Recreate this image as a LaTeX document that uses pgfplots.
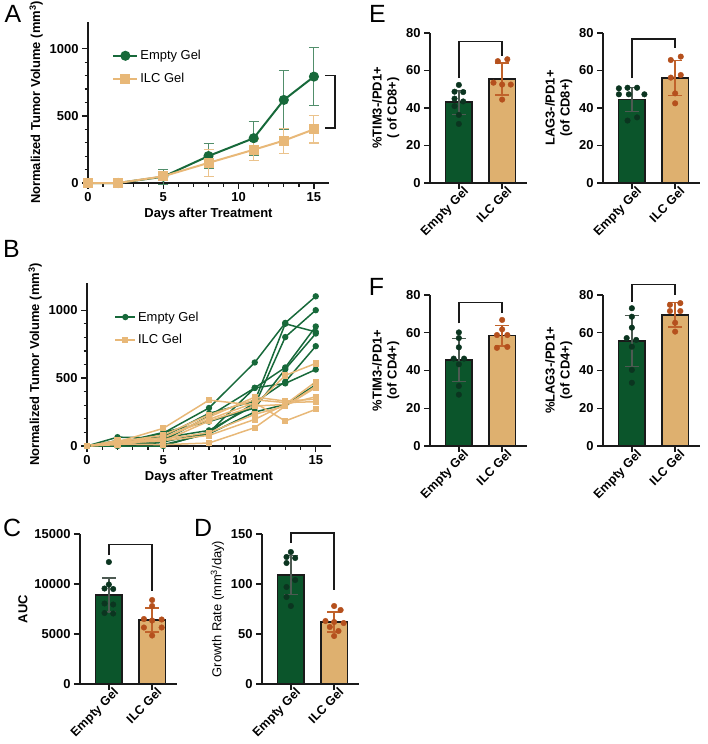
\documentclass[border=0pt]{standalone}
\usepackage{pgfplots}
\pgfplotsset{compat=1.18}
\usepackage{fontspec}
\setmainfont{Liberation Sans}
\definecolor{lgreen}{HTML}{17693A}
\definecolor{ltan}{HTML}{E8B878}
\definecolor{bgreen}{HTML}{0B552B}
\definecolor{btan}{HTML}{DEB06F}
\definecolor{dgreen}{HTML}{0B3520}
\definecolor{drust}{HTML}{B5501D}
\definecolor{egray}{HTML}{4D5A52}
\definecolor{erust}{HTML}{C0622B}
\definecolor{axcol}{HTML}{1A1A1A}
\newcommand{\lbl}{\fontsize{13}{15}\selectfont}
\pgfplotsset{
 prism/.style={
  scale only axis, clip=false,
  axis lines=left,
  axis line style={line width=1.4bp, axcol, -},
  tick align=outside,
  major tick length=6bp, minor tick length=3.5bp,
  tick style={line width=1.3bp, axcol},
  tick label style={font=\lbl\bfseries},
  label style={font=\lbl\bfseries},
  /pgf/number format/assume math mode=true,
  /pgf/number format/set thousands separator={},
  scaled ticks=false,
 },
 barp/.style={
  prism, width=96.5bp,
  xmin=0.333, xmax=2.563,
  xtick={1,2}, xticklabels={Empty Gel, ILC Gel},
  xticklabel style={rotate=45, anchor=north east, inner sep=1bp, xshift=6bp, yshift=0.5bp, font=\fontsize{12.5}{14}\selectfont\bfseries},
  ymin=0,
 },
 bargreen/.style={ybar, bar width=0.62, bar shift=0pt, fill=bgreen, draw=axcol, line width=1.8bp,
   error bars/.cd, y dir=both, y explicit,
   error bar style={line width=1.3bp, color=egray},
   error mark options={rotate=90, mark size=7bp, line width=1.3bp, color=egray}},
 bartan/.style={ybar, bar width=0.62, bar shift=0pt, fill=btan, draw=axcol, line width=1.8bp,
   error bars/.cd, y dir=both, y explicit,
   error bar style={line width=1.3bp, color=erust},
   error mark options={rotate=90, mark size=7bp, line width=1.3bp, color=erust}},
 dotg/.style={only marks, mark=*, mark size=2.8bp, mark options={draw=dgreen, fill=dgreen}},
 dott/.style={only marks, mark=*, mark size=2.8bp, mark options={draw=drust, fill=drust}},
 brk/.style={axcol, line width=1.3bp, mark=none},
 gline/.style={color=lgreen, line width=1.5bp, mark=*, mark size=2.4bp, mark options={fill=lgreen, draw=lgreen}},
 tline/.style={color=ltan, line width=1.5bp, mark=square*, mark size=2.4bp, mark options={fill=ltan, draw=ltan}},
}
\begin{document}
\begin{tikzpicture}
\useasboundingbox (0,0) rectangle (708bp,-744bp);
\node[font=\fontsize{25}{30}\selectfont] at (13bp,-14bp) {A};
\node[font=\fontsize{25}{30}\selectfont] at (11.5bp,-249bp) {B};
\node[font=\fontsize{25}{30}\selectfont] at (12bp,-527.5bp) {C};
\node[font=\fontsize{25}{30}\selectfont] at (203bp,-527.5bp) {D};
\node[font=\fontsize{25}{30}\selectfont] at (377.5bp,-14bp) {E};
\node[font=\fontsize{25}{30}\selectfont] at (376.5bp,-287bp) {F};

% ---------- A ----------
\begin{axis}[prism, at={(88bp,-183bp)}, anchor=south west, width=241bp, height=161bp,
  xmin=0, xmax=16, ymin=0, ymax=1200, xtick={0,5,10,15}, ytick={0,500,1000},
  minor x tick num=4, minor y tick num=4,
  xlabel={Days after Treatment}, ylabel={Normalized Tumor Volume (mm\textsuperscript{3})},
  legend style={at={(0.088,0.85)}, anchor=north west, draw=none, fill=none, font=\lbl, row sep=8bp},
  legend cell align=left,
  legend image code/.code={\draw[mark repeat=2,mark phase=2,#1] plot coordinates {(0bp,0bp) (12bp,0bp) (24bp,0bp)};}]
\addplot[color=lgreen, line width=2bp, mark=*, mark size=4bp, mark options={fill=lgreen, draw=lgreen},
  error bars/.cd, y dir=both, y explicit,
  error bar style={line width=1.1bp, color=lgreen!75},
  error mark options={rotate=90, mark size=5bp, line width=1.1bp, color=lgreen!75}]
  coordinates {(0,0) (2,0) +- (0,27) (5,47) +- (0,55) (8,201) +- (0,92) (11,334) +- (0,125) (13,619) +- (0,217) (15,793) +- (0,215)};
\addlegendentry{Empty Gel}
\addplot[color=ltan, line width=2bp, mark=square*, mark size=4bp, mark options={fill=ltan, draw=ltan},
  error bars/.cd, y dir=both, y explicit,
  error bar style={line width=1.1bp, color=ltan!85},
  error mark options={rotate=90, mark size=5bp, line width=1.1bp, color=ltan!85}]
  coordinates {(0,0) (2,0) +- (0,25) (5,50) +- (0,30) (8,150) +- (0,100) (11,248) +- (0,80) (13,316) +- (0,93) (15,400) +- (0,102)};
\addlegendentry{ILC Gel}
\addplot[brk, forget plot] coordinates {(15.75,800) (16.4,800) (16.4,410) (15.75,410)};
\end{axis}

% ---------- B ----------
\begin{axis}[prism, at={(87bp,-446bp)}, anchor=south west, width=244bp, height=163bp,
  xmin=0, xmax=16, ymin=0, ymax=1200, xtick={0,5,10,15}, ytick={0,500,1000},
  minor x tick num=4, minor y tick num=4,
  xlabel={Days after Treatment}, ylabel={Normalized Tumor Volume (mm\textsuperscript{3})},
  legend style={at={(0.1,0.85)}, anchor=north west, draw=none, fill=none, font=\lbl, row sep=8bp},
  legend cell align=left,
  legend image code/.code={\draw[mark repeat=2,mark phase=2,#1] plot coordinates {(0bp,0bp) (10bp,0bp) (20bp,0bp)};}]
\addplot[gline] coordinates {(0,0)(2,20)(5,95)(8,280)(11,615)(13,906)(15,1102)};
\addlegendentry{Empty Gel}
\addplot[gline, forget plot] coordinates {(0,0)(2,10)(5,70)(8,240)(11,330)(13,900)(15,840)};
\addplot[gline, forget plot] coordinates {(0,0)(2,65)(5,60)(8,115)(11,300)(13,802)(15,1000)};
\addplot[gline, forget plot] coordinates {(0,0)(2,30)(5,40)(8,220)(11,428)(13,578)(15,880)};
\addplot[gline, forget plot] coordinates {(0,0)(2,20)(5,100)(8,180)(11,280)(13,565)(15,828)};
\addplot[gline, forget plot] coordinates {(0,0)(2,5)(5,30)(8,100)(11,428)(13,461)(15,563)};
\addplot[gline, forget plot] coordinates {(0,0)(2,0)(5,0)(8,100)(11,320)(13,473)(15,735)};
\addplot[gline, forget plot] coordinates {(0,0)(2,40)(5,10)(8,90)(11,250)(13,306)(15,450)};
\addplot[tline] coordinates {(0,0)(2,30)(5,130)(8,338)(11,300)(13,520)(15,608)};
\addlegendentry{ILC Gel}
\addplot[tline, forget plot] coordinates {(0,0)(2,40)(5,60)(8,213)(11,360)(13,331)(15,345)};
\addplot[tline, forget plot] coordinates {(0,0)(2,20)(5,60)(8,196)(11,319)(13,184)(15,270)};
\addplot[tline, forget plot] coordinates {(0,0)(2,25)(5,35)(8,184)(11,294)(13,306)(15,473)};
\addplot[tline, forget plot] coordinates {(0,0)(2,10)(5,50)(8,98)(11,233)(13,294)(15,441)};
\addplot[tline, forget plot] coordinates {(0,0)(2,35)(5,40)(8,78)(11,196)(13,306)(15,363)};
\addplot[tline, forget plot] coordinates {(0,0)(2,15)(5,10)(8,22)(11,135)(13,294)(15,430)};
\addplot[tline, forget plot] coordinates {(0,0)(2,30)(5,80)(8,230)(11,340)(13,320)(15,326)};
\end{axis}

% ---------- C ----------
\begin{axis}[barp, at={(80bp,-684bp)}, anchor=south west, height=150bp,
  ymax=15000, ytick={0,5000,10000,15000}, ylabel={AUC}]
\addplot[bargreen] coordinates {(1,8900) +- (0,1700)};
\addplot[bartan] coordinates {(2,6400) +- (0,1200)};
\addplot[dotg] coordinates {(1,12200) (1,9950) (0.9,9550) (1.1,9500) (0.9,8050) (1.1,7950) (0.9,7100) (1.1,7050)};
\addplot[dott] coordinates {(2,8400) (2,7800) (1.81,6500) (2,6350) (2.22,6450) (1.81,5650) (2.22,5650) (2,4850)};
\addplot[brk] coordinates {(1,12900) (1,13970) (2,13970) (2,9300)};
\end{axis}

% ---------- D ----------
\begin{axis}[barp, at={(262bp,-684bp)}, anchor=south west, height=150bp,
  ymax=150, ytick={0,50,100,150}, ylabel={Growth Rate (mm\textsuperscript{3}/day)},
  ylabel style={font=\lbl}]
\addplot[bargreen] coordinates {(1,109) +- (0,19.5)};
\addplot[bartan] coordinates {(2,62) +- (0,10)};
\addplot[dotg] coordinates {(1,132) (0.9,127) (1.1,126) (0.9,121) (1.1,104) (0.9,97) (0.9,87) (1,78)};
\addplot[dott] coordinates {(2,78) (2.15,74) (1.8,63) (2,62) (2.22,61) (1.9,57) (2.1,53) (2,48)};
\addplot[brk] coordinates {(1,141) (1,151) (2,151) (2,94)};
\end{axis}

% ---------- E left ----------
\begin{axis}[barp, at={(430bp,-183bp)}, anchor=south west, height=150bp,
  ymax=80, ytick={0,20,40,60,80}, ylabel={\%TIM3-/PD1+\\( of CD8+)}, ylabel style={align=center}]
\addplot[bargreen] coordinates {(1,43) +- (0,6.5)};
\addplot[bartan] coordinates {(2,55.5) +- (0,8.5)};
\addplot[dotg] coordinates {(1,52.3) (0.9,48.7) (1.1,48.5) (0.9,45) (1.1,43.5) (0.9,41) (1,36.3) (1,31.5)};
\addplot[dott] coordinates {(1.9,65) (2.12,66) (1.8,53.5) (2,52.5) (2.2,52.5) (2,44.5)};
\addplot[brk] coordinates {(1,56) (1,75.5) (2,75.5) (2,67.5)};
\end{axis}

% ---------- E right ----------
\begin{axis}[barp, at={(603bp,-183bp)}, anchor=south west, height=150bp,
  ymax=80, ytick={0,20,40,60,80}, ylabel={LAG3-/PD1+\\(of CD8+)}, ylabel style={align=center}]
\addplot[bargreen] coordinates {(1,44.5) +- (0,6.5)};
\addplot[bartan] coordinates {(2,56) +- (0,9.5)};
\addplot[dotg] coordinates {(0.7,50.5) (0.9,50.8) (1.12,50.8) (0.7,47.3) (0.93,47.3) (1.29,47.3) (1.12,35) (0.9,33.3)};
\addplot[dott] coordinates {(1.9,65.6) (2.13,67.4) (1.9,56.2) (2.13,57.6) (2,47.8) (2,42.5)};
\addplot[brk] coordinates {(1,56) (1,76.8) (2,76.8) (2,71.8)};
\end{axis}

% ---------- F left ----------
\begin{axis}[barp, at={(430bp,-446bp)}, anchor=south west, height=151bp,
  ymax=80, ytick={0,20,40,60,80}, ylabel={\%TIM3-/PD1+\\(of CD4+)}, ylabel style={align=center}]
\addplot[bargreen] coordinates {(1,45.5) +- (0,11.5)};
\addplot[bartan] coordinates {(2,58.5) +- (0,5.5)};
\addplot[dotg] coordinates {(1,60.2) (1,57.2) (1,52.3) (0.88,46.3) (1.12,46.3) (1,43.3) (1,31.8) (1,27.2)};
\addplot[dott] coordinates {(2,66.8) (2,61.8) (1.88,58.8) (2.12,58.8) (1.88,52) (2.12,52.5)};
\addplot[brk] coordinates {(1,65) (1,76.1) (2,76.1) (2,70.3)};
\end{axis}

% ---------- F right ----------
\begin{axis}[barp, at={(603bp,-446bp)}, anchor=south west, height=151bp,
  ymax=80, ytick={0,20,40,60,80}, ylabel={\%LAG3-/PD1+\\(of CD4+)}, ylabel style={align=center}]
\addplot[bargreen] coordinates {(1,55.5) +- (0,13.5)};
\addplot[bartan] coordinates {(2,69.5) +- (0,6.5)};
\addplot[dotg] coordinates {(1,73) (1,68.5) (1,62.7) (0.88,57.2) (1.1,56.2) (1,52.6) (1,40.3) (1,33.5)};
\addplot[dott] coordinates {(1.88,74.8) (2.12,75.7) (1.88,71.5) (2.12,71.5) (2,65.3) (2,60.6)};
\addplot[brk] coordinates {(1,76.5) (1,85.5) (2,85.5) (2,80)};
\end{axis}
\end{tikzpicture}
\end{document}
